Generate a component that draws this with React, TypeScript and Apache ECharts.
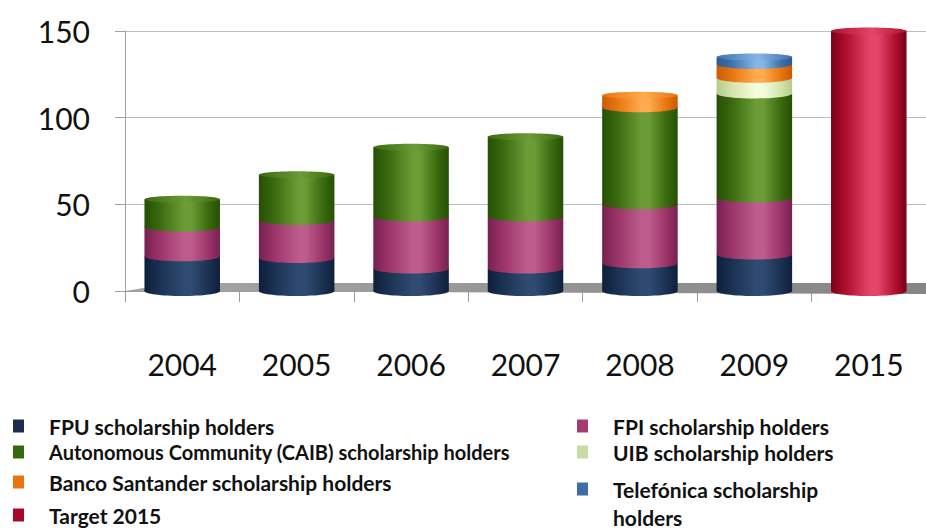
import React, { useEffect, useRef } from 'react';
import * as echarts from 'echarts';

const categories = ['2004', '2005', '2006', '2007', '2008', '2009', '2015'];
const fpu = [20, 19, 13, 13, 16, 21, 0];
const fpi = [17, 22, 30, 30, 34, 33, 0];
const caib = [16, 26, 40, 46, 56, 60, 0];
const uib = [0, 0, 0, 0, 0, 9, 0];
const santander = [0, 0, 0, 0, 7, 8, 0];
const telefonica = [0, 0, 0, 0, 0, 4, 0];
const target = [0, 0, 0, 0, 0, 0, 150];
const yTicks = [0, 50, 100, 150];

const seriesNames = [
  'FPU scholarship holders',
  'FPI scholarship holders',
  'Autonomous Community (CAIB) scholarship holders',
  'UIB scholarship holders',
  'Banco Santander scholarship holders',
  'Telefónica scholarship holders',
  'Target 2015',
];
const seriesValues = [fpu, fpi, caib, uib, santander, telefonica, target];

// [edge, mid, highlight, legend]
const palettes = [
  ['#0d1f3a', '#1b3152', '#2f4b72', '#1b2d4a'],
  ['#762150', '#9b3468', '#bd5c8d', '#a43c72'],
  ['#264f04', '#3a6a0f', '#6b9c36', '#336a10'],
  ['#b5cb8a', '#d3e4ad', '#f4fcdc', '#c9dca4'],
  ['#c95a06', '#e8760f', '#ffab4e', '#ea7410'],
  ['#2b5a90', '#3d72ad', '#86b6e4', '#3b6ea6'],
  ['#7a0018', '#b0102e', '#e4466a', '#a8062a'],
];

const FONT = 'Lato';
const RY = 5;

function grad(p: string[]) {
  return new echarts.graphic.LinearGradient(0, 0, 1, 0, [
    { offset: 0, color: p[0] },
    { offset: 0.2, color: p[1] },
    { offset: 0.52, color: p[2] },
    { offset: 0.62, color: p[2] },
    { offset: 0.85, color: p[1] },
    { offset: 1, color: p[0] },
  ]);
}
function capGrad(p: string[]) {
  return new echarts.graphic.LinearGradient(0, 0, 1, 0, [
    { offset: 0, color: p[1] },
    { offset: 0.55, color: p[2] },
    { offset: 1, color: p[1] },
  ]);
}

export default function App() {
  const ref = useRef<HTMLDivElement>(null);
  useEffect(() => {
    document.body.style.margin = '0';
    const chart = echarts.init(ref.current!, null, { renderer: 'svg' });

    const bases = categories.map(() => 0);
    const seriesData = seriesValues.map((vals) =>
      vals.map((v, i) => {
        const b = bases[i];
        bases[i] += v;
        return [i, v, b, 0];
      })
    );
    categories.forEach((_, i) => {
      for (let s = seriesData.length - 1; s >= 0; s--) {
        if (seriesData[s][i][1] > 0) {
          seriesData[s][i][3] = 1;
          break;
        }
      }
    });

    const series = seriesNames.map((name, s) => {
      const p = palettes[s];
      return {
        type: 'custom',
        name,
        itemStyle: { color: p[3] },
        encode: { x: 0, y: 1 },
        data: seriesData[s],
        z: 3 + s,
        renderItem: (params: any, api: any) => {
          const cat = api.value(0);
          const val = api.value(1);
          const base = api.value(2);
          const isTop = api.value(3) === 1;
          if (!val) return { type: 'group', children: [] };
          const bottom = api.coord([cat, base]);
          const top = api.coord([cat, base + val]);
          const w = api.size([1, 0])[0] * 0.66;
          const children: any[] = [
            {
              type: 'ellipse',
              shape: { cx: bottom[0], cy: bottom[1], rx: w / 2, ry: RY },
              style: { fill: grad(p) },
            },
            {
              type: 'rect',
              shape: { x: bottom[0] - w / 2, y: top[1], width: w, height: bottom[1] - top[1] },
              style: { fill: grad(p) },
            },
          ];
          if (isTop) {
            children.push({
              type: 'ellipse',
              shape: { cx: top[0], cy: top[1], rx: w / 2, ry: RY - 1.5 },
              style: { fill: capGrad(p) },
            });
          }
          return { type: 'group', children };
        },
      };
    });

    const legendPos: [number, number][] = [
      [13, 415],
      [577, 415],
      [13, 441],
      [577, 441],
      [13, 471],
      [577, 475],
      [13, 504],
    ];

    const legends = seriesNames.map((name, s) => {
      const isTel = s === 5;
      const isCaib = s === 2;
      return {
        data: [name],
        left: legendPos[s][0],
        top: legendPos[s][1],
        padding: 0,
        selectedMode: false,
        icon: isTel ? 'path://M0,0L11,0L11,13L0,13Z M0,41L0.01,41L0,41Z' : 'rect',
        itemWidth: 11,
        itemHeight: isTel ? 41 : 13,
        formatter: isTel ? () => 'Telefónica scholarship\nholders' : undefined,
        textStyle: {
          fontFamily: FONT,
          fontWeight: 'bold',
          fontSize: isCaib ? 20 : 21,
          color: '#111',
          lineHeight: isTel ? 28 : 22,
          padding: [0, 0, 0, 20],
        },
      };
    });

    chart.setOption({
      animation: false,
      backgroundColor: '#fff',
      grid: { left: 125, right: 0, top: 31, height: 260 },
      legend: legends,
      graphic: [
        {
          type: 'polygon',
          z: 1,
          shape: { points: [[125, 291], [175, 283], [926, 283], [926, 294]] },
          style: {
            fill: new echarts.graphic.LinearGradient(0, 0, 1, 0, [
              { offset: 0, color: '#a6a6a6' },
              { offset: 1, color: '#858585' },
            ]),
          },
        },
      ],
      xAxis: {
        type: 'category',
        data: categories,
        axisLine: { lineStyle: { color: '#9a9a9a' } },
        axisTick: { show: true, length: 11, lineStyle: { color: '#9a9a9a' } },
        axisLabel: { fontFamily: FONT, fontSize: 30, color: '#111', margin: 58 },
      },
      yAxis: {
        type: 'value',
        min: yTicks[0],
        max: yTicks[yTicks.length - 1],
        interval: yTicks[1] - yTicks[0],
        axisLine: { show: true, lineStyle: { color: '#a0a0a0' } },
        axisTick: { show: true, length: 10, lineStyle: { color: '#a0a0a0' } },
        splitLine: { lineStyle: { color: '#bdbdbd' } },
        axisLabel: { fontFamily: FONT, fontSize: 30, color: '#111', margin: 35 },
      },
      series,
    });
    return () => chart.dispose();
  }, []);
  return <div ref={ref} style={{ width: 926, height: 528 }} />;
}
